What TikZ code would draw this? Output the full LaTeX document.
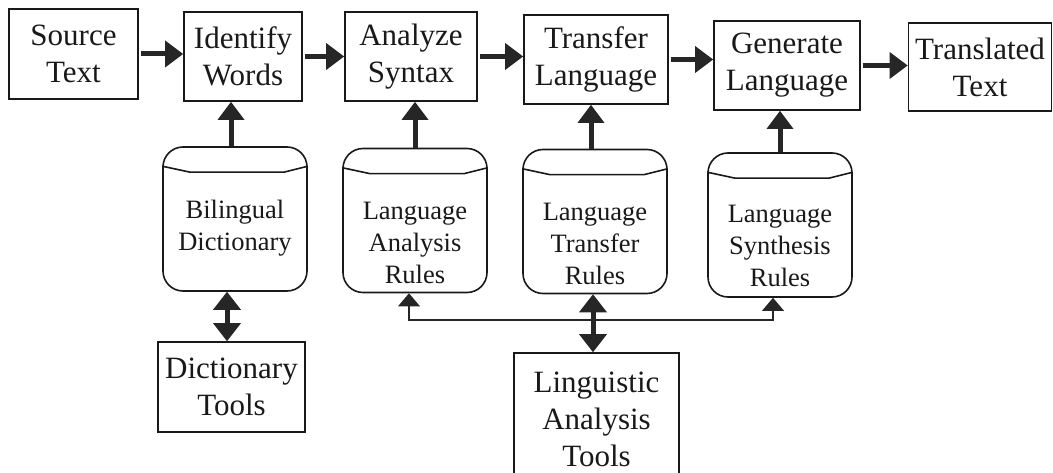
\documentclass[tikz,border=0pt]{standalone}
\usepackage{fontspec}
\setmainfont{Liberation Serif}
\usetikzlibrary{arrows.meta,calc}
\begin{document}
\begin{tikzpicture}[x=1pt,y=-1pt,
  box/.style={draw=black!90, line width=1.7pt, inner sep=0pt, align=center,
    font=\fontsize{31}{37}\selectfont, text=black!90},
  cyl/.style={draw=black!90, line width=1.6pt, rounded corners=20pt, inner sep=0pt,
    minimum width=144pt, minimum height=144pt},
  cyltext/.style={align=center, inner sep=0pt, font=\fontsize{26.5}{32}\selectfont, text=black!90},
  cylline/.style={draw=black!90, line width=1.6pt},
  bigarrow/.style={draw=black!85, line width=5pt,
    -{Triangle[length=18pt,width=27pt,line width=0pt]}},
  dblarrow/.style={draw=black!85, line width=5pt,
    {Triangle[length=18pt,width=28pt,line width=0pt]}-{Triangle[length=18pt,width=28pt,line width=0pt]}},
  thinarrow/.style={draw=black!85, line width=2.5pt,
    -{Triangle[length=13pt,width=22pt,line width=0pt]}}
]
\useasboundingbox[fill=white] (0,0) rectangle (1053,473);

% top row
\node[box, minimum width=129pt, minimum height=90pt] (src) at (73.5,54) {Source\\Text};
\node[box, minimum width=118pt, minimum height=89pt] (idw) at (243,56.5) {Identify\\Words};
\node[box, minimum width=132pt, minimum height=89pt] (ana) at (411,56.5) {Analyze\\Syntax};
\node[box, minimum width=144pt, minimum height=89pt] (tra) at (596,59.5) {Transfer\\Language};
\node[box, minimum width=146pt, minimum height=89pt] (gen) at (787,65.5) {Generate\\Language};
\node[box, minimum width=143pt, minimum height=88pt] (tt) at (980,67) {Translated\\Text};

% cylinders
\node[cyl] (bd) at (235,219) {};
\node[cyl] (lar) at (415,220.5) {};
\node[cyl] (ltr) at (595,221.5) {};
\node[cyl] (lsr) at (780,225) {};
\foreach \c in {bd,lar,ltr,lsr}{
  \draw[cylline] ($(\c.north west)+(0,20)$) -- ++(28,6) -- ($(\c.north east)+(-24,26)$) -- ++(24,-6);
}
\node[cyltext] (bdt) at ($(bd.center)+(0,9)$) {Bilingual\\Dictionary};
\node[cyltext] (lart) at ($(lar.center)+(0,22)$) {Language\\Analysis\\Rules};
\node[cyltext] (ltrt) at ($(ltr.center)+(0,22.5)$) {Language\\Transfer\\Rules};
\node[cyltext] (lsrt) at ($(lsr.center)+(0,21)$) {Language\\Synthesis\\Rules};

% bottom boxes
\node[box, minimum width=147pt, minimum height=90pt] (dt) at (231.5,387) {Dictionary\\Tools};
\node[box, minimum width=165pt, minimum height=121pt] (lat) at (596.5,413.5) {\rule{0pt}{32pt}Linguistic\\Analysis\\Tools};

% top row arrows
\draw[bigarrow] ([xshift=2pt]src.east) -- (src.east -| idw.west);
\draw[bigarrow] ([xshift=2pt]idw.east) -- (idw.east -| ana.west);
\draw[bigarrow] ([xshift=2pt]ana.east) -- (ana.east -| tra.west);
\draw[bigarrow] ([xshift=2pt]tra.east) -- (tra.east -| gen.west);
\draw[bigarrow] ([xshift=2pt]gen.east) -- (gen.east -| tt.west);

% cylinders up to boxes
\draw[bigarrow] ([xshift=-4pt]bd.north) -- ([xshift=-4pt]bd.north |- idw.south);
\draw[bigarrow] (lar.north) -- (lar.north |- ana.south);
\draw[bigarrow] ([xshift=-4pt]ltr.north) -- ([xshift=-4pt]ltr.north |- tra.south);
\draw[bigarrow] (lsr.north) -- (lsr.north |- gen.south);

% tools connections
\draw[dblarrow] ([xshift=-8pt]bd.south) -- ([xshift=-8pt]bd.south |- dt.north);
\coordinate (hub) at ($([xshift=-2pt]ltr.south)!0.44!([xshift=-2pt]ltr.south |- lat.north)$);
\draw[thinarrow] (hub) -| ([xshift=-6pt]lar.south);
\draw[thinarrow] (hub) -| ([xshift=-7pt]lsr.south);
\draw[dblarrow] ([xshift=-2pt]ltr.south) -- ([xshift=-2pt]ltr.south |- lat.north);
\end{tikzpicture}
\end{document}
